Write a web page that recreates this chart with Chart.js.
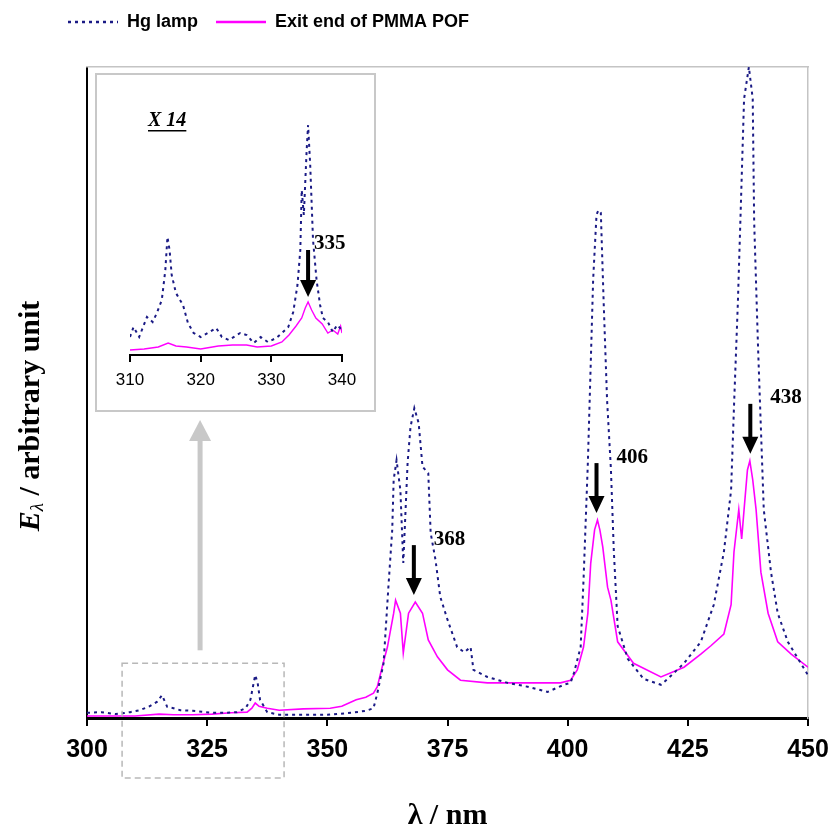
<!DOCTYPE html>
<html lang="en">
<head>
<meta charset="UTF-8">
<title>Hg lamp vs exit end of PMMA POF</title>
<script src="https://cdn.jsdelivr.net/npm/chart.js"></script>
<style>
    body { margin: 0; background: #fff; }
    #wrap { position: relative; width: 830px; height: 834px; }
    #inset {
        position: absolute; left: 95px; top: 73px;
        width: 277px; height: 335px;
        border: 2px solid #c8c8c8; background: #fff;
    }
</style>
</head>
<body>
<div id="wrap">
    <canvas id="mainChart" width="830" height="834"></canvas>
    <div id="inset"><canvas id="insetChart" width="277" height="335"></canvas></div>
</div>

<script>
// main spectrum, wavelength in nm and emission in arbitrary units (0-100)
const hgNm = [300, 303, 306, 309, 311, 313, 314.6, 315.6, 316.7, 318, 319.4, 322, 326, 329, 331.2, 333, 334, 334.6, 335, 335.5, 336, 337.5,
    340, 345, 350, 355, 358, 359.6, 360.4, 361.7, 362.7, 363.5, 363.8, 364.4, 365.2, 365.8, 366.7, 367.3, 368.1, 369, 369.8, 371,
    371.5, 372.5, 373.5, 375, 377, 378.5, 379.8, 380.4, 383.3, 387.5, 391.7, 395.8, 399.2, 400.6, 401.3, 402.7, 403.3, 404.2, 404.7,
    405.3, 406, 406.4, 406.9, 407.5, 408.2, 409, 409.6, 410.4, 412.5, 415.8, 419.4, 420.8, 424.2, 427.7, 430.4, 432.5, 434, 434.6,
    435.4, 436, 436.7, 437.7, 438.5, 438.8, 439.6, 440.2, 440.8, 442.3, 443.7, 445.8, 448.5, 450];
const hgVal = [0.8, 0.9, 0.6, 0.9, 1.2, 1.8, 2.5, 3.5, 1.7, 1.5, 1.2, 1.1, 0.8, 0.8, 0.9, 1.5, 2.8, 5.1, 6.6, 5.4, 2.8, 0.9,
    0.5, 0.5, 0.5, 0.8, 1.1, 1.5, 3.8, 8.4, 20.1, 28.9, 36.6, 39.6, 35.0, 23.8, 39.2, 44.7, 47.6, 45.3, 38.6, 37.6,
    28.4, 24.3, 18.6, 15.1, 10.9, 10.1, 10.9, 7.4, 6.3, 5.4, 4.8, 4.0, 5.1, 5.4, 6.9, 10.9, 21.2, 39.2, 51.9,
    67.3, 77.3, 78.0, 77.6, 63.6, 48.8, 38.2, 25.7, 14.1, 9.1, 6.0, 5.1, 6.0, 8.4, 11.7, 17.4, 25.5, 35.0, 47.8,
    63.6, 78.0, 95.1, 100, 95.1, 76.2, 57.1, 44.5, 32.0, 22.4, 16.1, 11.7, 8.4, 6.6];

const pofNm = [300, 310, 315, 318, 322, 326, 330, 333.3, 334.3, 335, 335.8, 337.5, 340, 345, 350.6, 353, 356, 358, 359.6, 360.4,
    361.5, 362.5, 363.8, 364.2, 365.2, 365.8, 366.9, 368.3, 369.8, 371, 372.9, 375, 377.7, 383.3, 391.7, 398.5, 400.6, 402, 403.3,
    404.2, 404.8, 405.6, 406.2, 406.7, 407.3, 408.3, 409, 410.4, 413.7, 419.4, 424.2, 427.7, 429.8, 432.5, 434, 434.6, 435.6, 436.2,
    436.7, 437.4, 437.9, 438.5, 439.2, 440.2, 441.7, 443.7, 446.5, 450];
const pofVal = [0.3, 0.3, 0.6, 0.5, 0.5, 0.6, 0.8, 0.9, 1.5, 2.3, 1.8, 1.5, 1.2, 1.4, 1.5, 1.8, 2.8, 3.2, 3.8, 4.8,
    8.1, 10.9, 16.1, 18.1, 16.1, 10.0, 16.1, 17.8, 16.1, 12.0, 9.4, 7.4, 5.8, 5.4, 5.4, 5.4, 5.8, 7.4, 10.9,
    16.1, 23.8, 28.9, 30.4, 28.9, 26.3, 20.1, 18.1, 11.7, 8.4, 6.3, 7.8, 9.8, 11.1, 12.9, 17.4, 25.5, 32.0, 27.5,
    32.0, 38.1, 39.5, 36.6, 32.0, 22.4, 16.1, 11.7, 9.8, 7.8];

// inset, 310-340 nm magnified x14
const insetHgNm = [310, 310.5, 311.3, 312.4, 313.2, 313.8, 314.5, 315, 315.3, 315.6, 315.9, 316.5, 317.5, 318.2, 319, 320, 321,
    322.2, 323, 324, 325.6, 326.5, 327.5, 328.5, 329.5, 330.7, 331.5, 332.4, 333.1, 333.7, 334.1, 334.3, 334.6, 335, 335.2,
    335.5, 335.9, 336.4, 336.9, 337.3, 338, 338.7, 339.3, 340];
const insetHgVal = [7.2, 11.2, 7.2, 15.2, 13.2, 16.8, 22, 34, 47.2, 42, 32, 24.8, 20, 12.8, 8.8, 7.2, 8.8,
    10.8, 7.2, 6, 8.8, 8, 4.8, 7.2, 5.2, 6.8, 8.8, 11.2, 17.2, 28, 42, 66, 56, 82, 92,
    76, 46, 30, 20, 14.8, 13.2, 9.2, 12, 10];
const insetPofNm = [310, 312, 314, 315.4, 316.5, 318, 320, 322.5, 324.5, 326.5, 328, 330, 331.5, 332.5, 333.5, 334.3, 334.8,
    335.2, 335.7, 336.3, 337.2, 338, 338.7, 339.4, 339.8, 340];
const insetPofVal = [2, 2.4, 3.2, 4.8, 3.6, 3.2, 2.4, 3.6, 4, 4, 3.2, 3.6, 5.2, 8, 11.6, 14.8, 18.8,
    21.2, 18, 14.8, 12.4, 8.8, 10, 8.4, 11.6, 8.8];

const seriesNames = ['Hg lamp', 'Exit end of PMMA POF'];
const peakNm = [368, 406, 438];
const peakLabels = ['368', '406', '438'];
const insetPeakNm = [335.2];
const insetPeakLabels = ['335'];

const sans = "'Liberation Sans', Arial, sans-serif";
const serif = "'Liberation Serif', 'Times New Roman', serif";
const navy = '#1a1a85';
const magenta = '#ff00ff';

function toPoints(xs, ys) {
    return xs.map((x, i) => ({ x: x, y: ys[i] }));
}

function peakOf(xs, ys, at) {
    let best = 0;
    xs.forEach((x, i) => { if (Math.abs(x - at) <= 1.5 && ys[i] > best) best = ys[i]; });
    return best;
}

// black arrow pointing down, tip at (x, tipY)
function downArrow(ctx, x, tipY, len) {
    ctx.save();
    ctx.fillStyle = '#000';
    ctx.fillRect(x - 2, tipY - len, 4, len - 14);
    ctx.beginPath();
    ctx.moveTo(x - 8, tipY - 17);
    ctx.lineTo(x + 8, tipY - 17);
    ctx.lineTo(x, tipY);
    ctx.closePath();
    ctx.fill();
    ctx.restore();
}

const mainExtras = {
    id: 'mainExtras',
    afterDatasetsDraw(chart) {
        const { ctx, chartArea } = chart;
        const xs = chart.scales.x, ys = chart.scales.y;

        // peak arrows + labels
        peakNm.forEach((nm, i) => {
            const x = xs.getPixelForValue(nm);
            const tip = ys.getPixelForValue(peakOf(pofNm, pofVal, nm)) - 7;
            downArrow(ctx, x, tip, 50);
            ctx.save();
            ctx.font = 'bold 21px ' + serif;
            ctx.fillStyle = '#000';
            ctx.textBaseline = 'middle';
            ctx.fillText(peakLabels[i], x + 20, tip - 56);
            ctx.restore();
        });

        // dashed box around the zoomed region
        const x1 = xs.getPixelForValue(307.3), x2 = xs.getPixelForValue(341);
        const top = ys.getPixelForValue(8.4), bottom = chartArea.bottom + 60;
        ctx.save();
        ctx.strokeStyle = '#b8b8b8';
        ctx.lineWidth = 1.5;
        ctx.setLineDash([6, 4]);
        ctx.strokeRect(x1, top, x2 - x1, bottom - top);
        ctx.restore();

        // grey arrow up to the inset
        const cx = (x1 + x2) / 2 - 3;
        ctx.save();
        ctx.fillStyle = '#c8c8c8';
        ctx.fillRect(cx - 2.5, 440, 5, top - 13 - 440);
        ctx.beginPath();
        ctx.moveTo(cx - 11, 441);
        ctx.lineTo(cx + 11, 441);
        ctx.lineTo(cx, 420);
        ctx.closePath();
        ctx.fill();
        ctx.restore();

        // y title with italic E and subscript lambda
        ctx.save();
        ctx.translate(31, 416);
        ctx.rotate(-Math.PI / 2);
        ctx.fillStyle = '#000';
        ctx.textBaseline = 'middle';
        const fE = 'bold italic 30px ' + serif;
        const fL = 'italic 19px ' + serif;
        const fR = 'bold 30px ' + serif;
        ctx.font = fE; const wE = ctx.measureText('E').width;
        ctx.font = fL; const wL = ctx.measureText('λ').width;
        ctx.font = fR; const rest = ' / arbitrary unit'; const wR = ctx.measureText(rest).width;
        let u = -(wE + wL + wR) / 2;
        ctx.font = fE; ctx.fillText('E', u, 0); u += wE;
        ctx.font = fL; ctx.fillText('λ', u, 7); u += wL;
        ctx.font = fR; ctx.fillText(rest, u, 0);
        ctx.restore();
    }
};

const insetExtras = {
    id: 'insetExtras',
    afterDatasetsDraw(chart) {
        const ctx = chart.ctx;
        const xs = chart.scales.x, ys = chart.scales.y;
        insetPeakNm.forEach((nm, i) => {
            const x = xs.getPixelForValue(nm);
            const tip = ys.getPixelForValue(peakOf(insetPofNm, insetPofVal, nm)) - 5;
            downArrow(ctx, x, tip, 47);
            ctx.save();
            ctx.font = 'bold 21px ' + serif;
            ctx.fillStyle = '#000';
            ctx.textBaseline = 'middle';
            ctx.fillText(insetPeakLabels[i], x + 6, tip - 53);
            ctx.restore();
        });
        // magnification note
        ctx.save();
        ctx.font = 'bold italic 20px ' + serif;
        ctx.fillStyle = '#000';
        ctx.textBaseline = 'alphabetic';
        const w = ctx.measureText('X 14').width;
        ctx.fillText('X 14', 51, 51);
        ctx.fillRect(51, 55, w, 1.5);
        ctx.restore();
    }
};

new Chart(document.getElementById('mainChart'), {
    type: 'line',
    data: {
        datasets: [{
            label: seriesNames[0],
            data: toPoints(hgNm, hgVal),
            borderColor: navy,
            backgroundColor: navy,
            borderWidth: 2,
            borderDash: [3, 4],
            pointRadius: 0,
            xAxisID: 'x', yAxisID: 'y'
        }, {
            label: seriesNames[1],
            data: toPoints(pofNm, pofVal),
            borderColor: magenta,
            backgroundColor: magenta,
            borderWidth: 1.6,
            pointRadius: 0,
            xAxisID: 'x', yAxisID: 'y'
        }]
    },
    options: {
        responsive: false,
        animation: false,
        layout: { padding: { left: 50, top: -5, right: 0, bottom: 0 } },
        plugins: {
            legend: {
                position: 'top',
                align: 'start',
                labels: {
                    usePointStyle: true,
                    pointStyle: 'line',
                    pointStyleWidth: 50,
                    boxHeight: 18,
                    padding: 18,
                    color: '#000',
                    font: { family: sans, size: 18, weight: 'bold' },
                    // point-style legend items lose the dash, put it back
                    generateLabels(chart) {
                        const items = Chart.defaults.plugins.legend.labels.generateLabels(chart);
                        items.forEach(item => {
                            const ds = chart.data.datasets[item.datasetIndex];
                            item.lineDash = ds.borderDash || [];
                            item.lineWidth = 2.5;
                            item.strokeStyle = ds.borderColor;
                        });
                        return items;
                    }
                }
            },
            tooltip: { enabled: false }
        },
        scales: {
            x: {
                type: 'linear', position: 'bottom', min: 300, max: 450,
                ticks: { stepSize: 25, color: '#000', padding: 9, maxRotation: 0,
                    font: { family: sans, size: 25, weight: 'bold' } },
                grid: { drawOnChartArea: false, drawTicks: true, tickLength: 8, color: '#000', lineWidth: 2 },
                border: { color: '#000', width: 3 },
                title: { display: true, text: 'λ / nm', color: '#000',
                    font: { family: serif, size: 30, weight: 'bold' }, padding: { top: 0, bottom: 0 } },
                afterFit(s) { s.height = 116; s.paddingLeft = 0; s.paddingRight = 0; }
            },
            y: {
                type: 'linear', position: 'left', min: 0, max: 100,
                ticks: { display: false },
                grid: { display: false },
                border: { color: '#000', width: 2 },
                afterFit(s) { s.width = 37; }
            },
            xTop: {
                type: 'linear', position: 'top', min: 0, max: 1,
                ticks: { display: false },
                grid: { display: false },
                border: { color: '#c4c4c4', width: 1.5 },
                afterFit(s) { s.height = 26; }
            },
            yRight: {
                type: 'linear', position: 'right', min: 0, max: 1,
                ticks: { display: false },
                grid: { display: false },
                border: { color: '#c4c4c4', width: 1.5 },
                afterFit(s) { s.width = 22; }
            }
        }
    },
    plugins: [mainExtras]
});

new Chart(document.getElementById('insetChart'), {
    type: 'line',
    data: {
        datasets: [{
            label: seriesNames[0],
            data: toPoints(insetHgNm, insetHgVal),
            borderColor: navy,
            borderWidth: 2,
            borderDash: [3, 4],
            pointRadius: 0
        }, {
            label: seriesNames[1],
            data: toPoints(insetPofNm, insetPofVal),
            borderColor: magenta,
            borderWidth: 1.4,
            pointRadius: 0
        }]
    },
    options: {
        responsive: false,
        animation: false,
        layout: { padding: { left: 33, top: 30, right: 32, bottom: 0 } },
        plugins: { legend: { display: false }, tooltip: { enabled: false } },
        scales: {
            x: {
                type: 'linear', min: 310, max: 340,
                ticks: { stepSize: 10, color: '#000', padding: 8, maxRotation: 0,
                    font: { family: sans, size: 17 } },
                grid: { drawOnChartArea: false, drawTicks: true, tickLength: 7, color: '#000', lineWidth: 2 },
                border: { color: '#000', width: 2 },
                afterFit(s) { s.height = 55; }
            },
            y: { display: false, min: 0, max: 100 }
        }
    },
    plugins: [insetExtras]
});
</script>
</body>
</html>
